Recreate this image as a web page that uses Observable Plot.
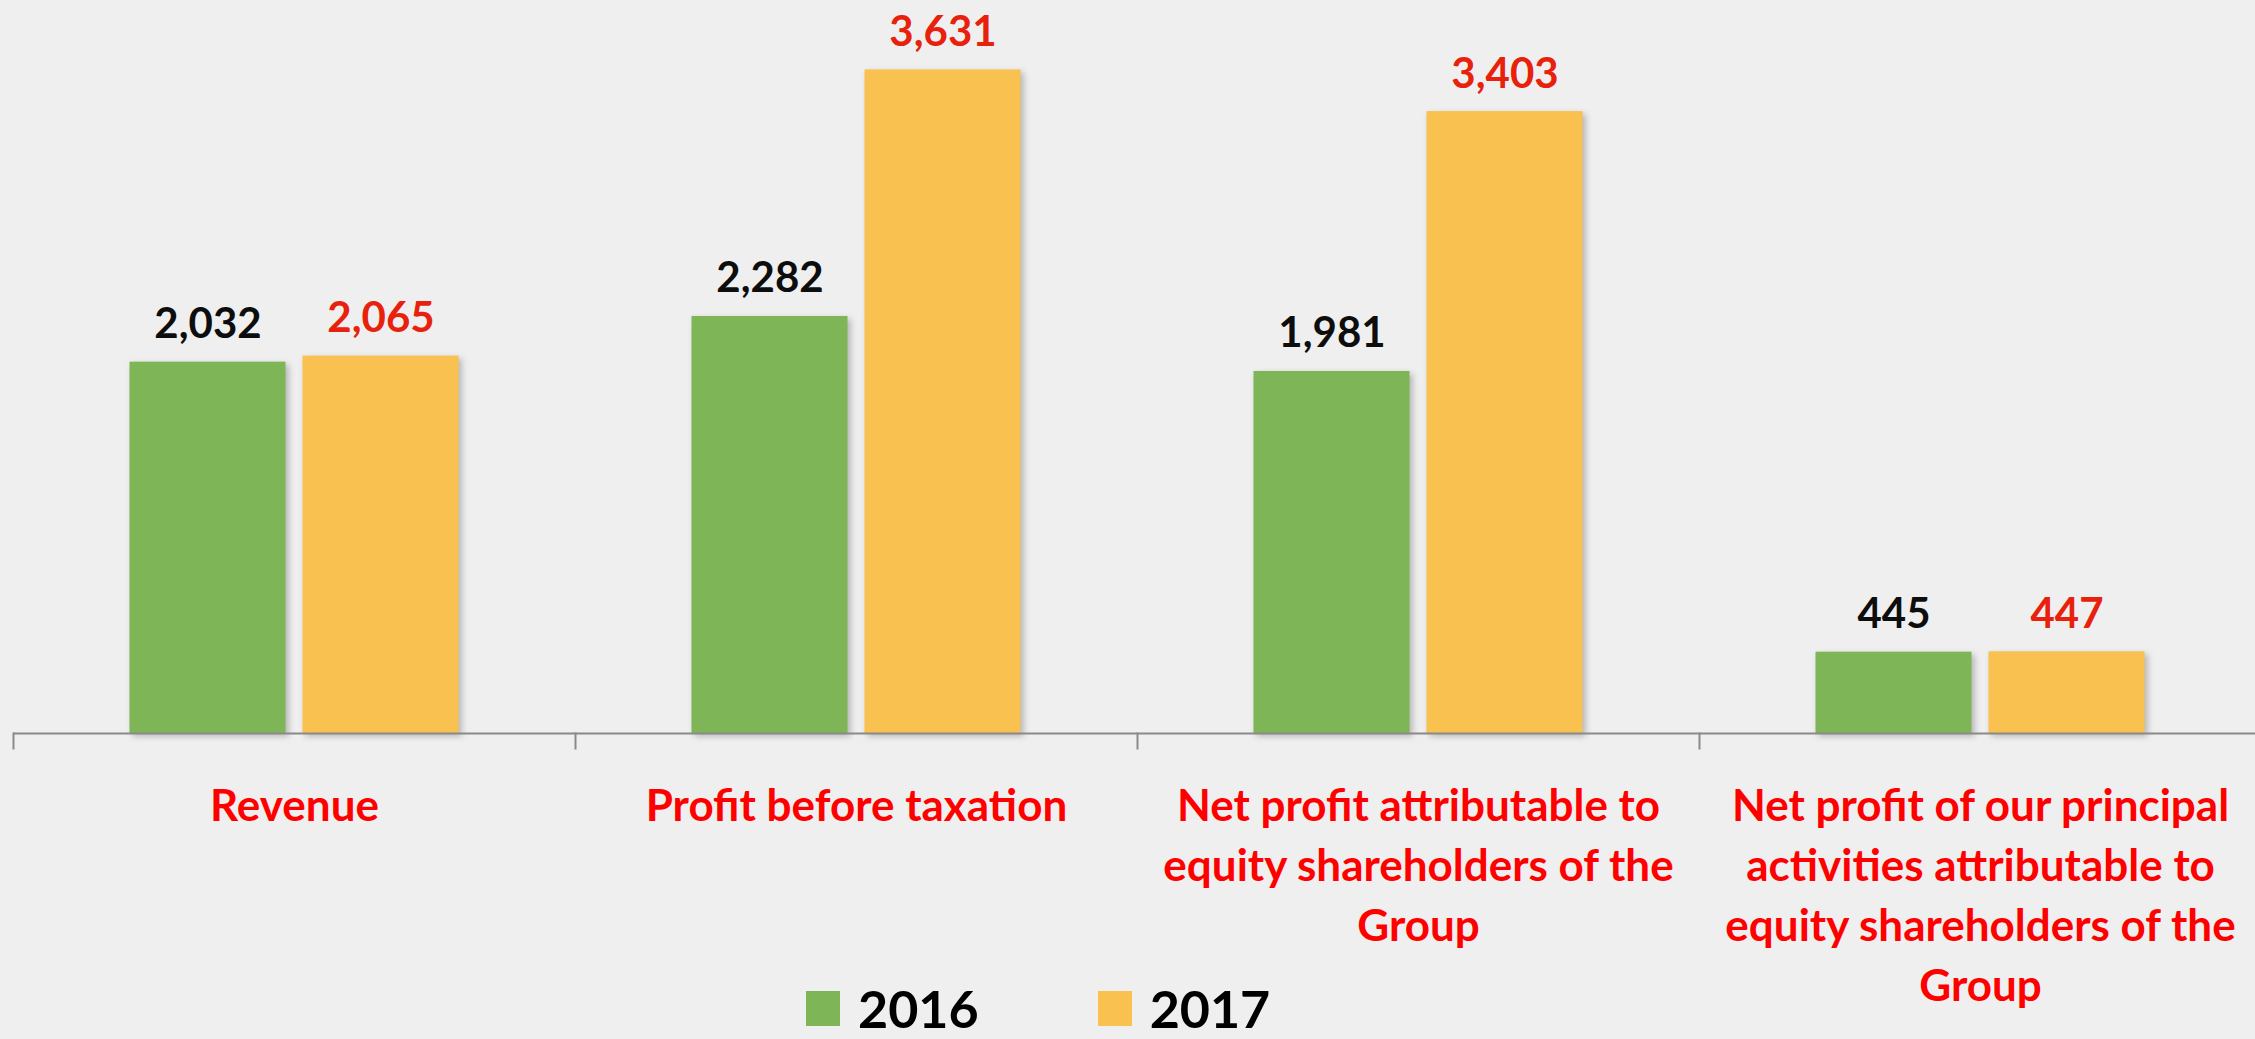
<!DOCTYPE html>
<html><head><meta charset="utf-8">
<script src="https://cdn.jsdelivr.net/npm/d3@7"></script>
<script src="https://cdn.jsdelivr.net/npm/@observablehq/plot@0.6"></script>
<style>
html,body{margin:0;padding:0;background:#efefef;width:2255px;height:1039px;overflow:hidden;font-family:Lato,"Open Sans",sans-serif;}
#chart svg{display:block;overflow:visible;}
g[aria-label="bar"] rect{filter:drop-shadow(3px 3px 3px rgba(0,0,0,0.25));}
#legend{display:flex;align-items:center;height:40px;margin-top:-2px;padding-left:806px;}
.sw{width:34px;height:35px;margin-right:18px;flex:none}
.lab{font-weight:700;font-size:52px;color:#000;margin-right:119px;line-height:40px;height:40px}
</style></head><body>
<div id="chart"></div><div id="legend"></div>
<script>
const categories = [
  "Revenue",
  "Profit before taxation",
  "Net profit attributable to equity shareholders of the Group",
  "Net profit of our principal activities attributable to equity shareholders of the Group"
];
const categoryLabels = [
  "Revenue",
  "Profit before taxation",
  "Net profit attributable to\nequity shareholders of the\nGroup",
  "Net profit of our principal\nactivities attributable to\nequity shareholders of the\nGroup"
];
const years = ["2016", "2017"];
const values2016 = [2032, 2282, 1981, 445];
const values2017 = [2065, 3631, 3403, 447];
const yDomain = [0, 4000];

const GREEN = "#7EB657", ORANGE = "#F9C14F", VALUE_RED = "#E8210D", LABEL_RED = "#FF0000";
const fmt = d3.format(",");

const data = [];
categories.forEach((c, i) => {
  data.push({category: c, year: years[0], value: values2016[i]});
  data.push({category: c, year: years[1], value: values2017[i]});
});

const W = 2255, H = 990, axisY = 733, topM = 2;
const font = "Lato, 'Open Sans', sans-serif";

const chart = Plot.plot({
  width: W, height: H,
  marginTop: topM, marginBottom: H - axisY, marginLeft: 11.5, marginRight: -7.5,
  style: {background: "transparent", overflow: "visible", fontFamily: font},
  fx: {domain: categories, padding: 0, axis: null},
  x: {domain: years, paddingInner: 0.098, paddingOuter: 0.665, axis: null},
  y: {domain: yDomain, axis: null},
  color: {domain: years, range: [GREEN, ORANGE]},
  marks: [
    Plot.barY(data, {fx: "category", x: "year", y: "value", fill: "year"}),
    Plot.ruleY([0], {stroke: "#8a8a8a", strokeWidth: 2}),
    Plot.frame({anchor: "left", stroke: "#8a8a8a", strokeWidth: 2, insetTop: axisY - topM, insetBottom: -15}),
    Plot.text(data.filter(d => d.year === years[0]), {
      fx: "category", x: "year", y: "value", text: d => fmt(d.value),
      dy: -24, lineAnchor: "bottom", fill: "#0d0d0d", fontSize: 42, fontWeight: 700, fontFamily: font
    }),
    Plot.text(data.filter(d => d.year === years[1]), {
      fx: "category", x: "year", y: "value", text: d => fmt(d.value),
      dy: -24, lineAnchor: "bottom", fill: VALUE_RED, fontSize: 42, fontWeight: 700, fontFamily: font
    }),
    Plot.text(categories, {
      fx: d => d, frameAnchor: "bottom", text: (d, i) => categoryLabels[i],
      lineAnchor: "top", dy: 45, fontSize: 44, lineHeight: 1.36,
      fill: LABEL_RED, fontWeight: 700, fontFamily: font
    })
  ]
});
document.getElementById("chart").appendChild(chart);

const legend = document.getElementById("legend");
const colors = [GREEN, ORANGE];
years.forEach((y, i) => {
  const sw = document.createElement("div");
  sw.className = "sw"; sw.style.background = colors[i];
  const lab = document.createElement("div");
  lab.className = "lab"; lab.textContent = y;
  legend.appendChild(sw); legend.appendChild(lab);
});
</script>
</body></html>
